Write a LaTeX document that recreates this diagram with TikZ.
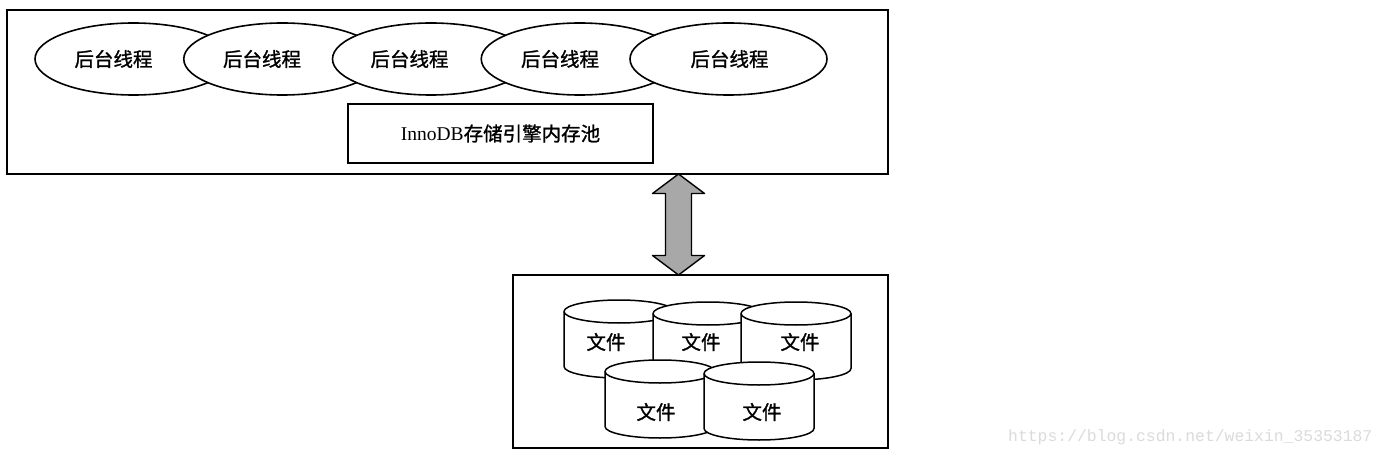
\documentclass[tikz,border=0pt]{standalone}
\usepackage{fontspec}
\setmainfont{Liberation Serif}
\newfontfamily\cjk[FakeBold=1.2]{Noto Sans CJK SC}
\newfontfamily\wmfont{Liberation Mono}
\usetikzlibrary{shapes.geometric,calc}
\tikzset{
  box/.style={draw, line width=1.7pt, inner sep=0pt},
  thread/.style={ellipse, draw, fill=white, line width=1.6pt, minimum width=197pt, minimum height=72pt, inner sep=0pt},
  lbl/.style={font=\fontsize{19.5}{21}\selectfont\cjk, inner sep=0pt},
  wmark/.style={font=\fontsize{16.4}{18}\selectfont\wmfont, text=gray!28, inner sep=0pt},
  dbcyl/.pic={
    \path[fill=white, draw, line width=1.5pt] (-55,-11.5) -- (-55,-66.5)
      arc[start angle=180, end angle=360, x radius=55, y radius=11.5]
      -- (55,-11.5)
      arc[start angle=0, end angle=180, x radius=55, y radius=11.5] -- cycle;
    \draw[line width=1.5pt] (-55,-11.5) arc[start angle=180, end angle=360, x radius=55, y radius=11.5];
  }
}
\begin{document}
\begin{tikzpicture}[x=1pt, y=1pt]
\useasboundingbox[fill=white] (0,0) rectangle (1389,456);
% top box
\node[box, minimum width=881pt, minimum height=164pt] (top) at (447.5,364) {};
% threads
\node[thread] (e1) at (133.5,397) {};
\node[lbl] (t1) at (113.5,397) {后台线程};
\node[thread] (e2) at (282.25,397) {};
\node[lbl] (t2) at (262,397) {后台线程};
\node[thread] (e3) at (431,397) {};
\node[lbl] (t3) at (409.5,397) {后台线程};
\node[thread] (e4) at (579.75,397) {};
\node[lbl] (t4) at (560,397) {后台线程};
\node[thread] (e5) at (728.5,397) {};
\node[lbl] (t5) at (729.5,397) {后台线程};
% memory pool
\node[box, minimum width=305pt, minimum height=59pt, font=\fontsize{19.5}{21}\selectfont] (pool) at (500.5,322.5) {InnoDB{\cjk 存储引擎内存池}};
% bottom box
\node[box, minimum width=375pt, minimum height=173pt] (files) at (700.5,94.5) {};
% double arrow
\coordinate (aT) at (678.5,282);
\coordinate (aB) at (678.5,181);
\draw[fill=gray!68, line width=1.4pt, line join=round]
  (aT) -- ++(26,-19.5) -- ++(-13,0) -- ($(aB)+(13,19.5)$) -- ++(13,0) -- (aB)
  -- ++(-26,19.5) -- ++(13,0) -- ($(aT)+(-13,-19.5)$) -- ++(-13,0) -- cycle;
% cylinders
\pic at (619,156) {dbcyl};
\node[lbl] (c1) at (606,114) {文件};
\pic at (708,154) {dbcyl};
\node[lbl] (c2) at (701,114) {文件};
\pic at (796,154) {dbcyl};
\node[lbl] (c3) at (800,114) {文件};
\pic at (660,96) {dbcyl};
\node[lbl] (c4) at (656,44) {文件};
\pic at (759,94) {dbcyl};
\node[lbl] (c5) at (762,44) {文件};
% watermark
\node[wmark, anchor=west] (wm) at (1008,19) {https://blog.csdn.net/weixin\_35353187};
\end{tikzpicture}
\end{document}
